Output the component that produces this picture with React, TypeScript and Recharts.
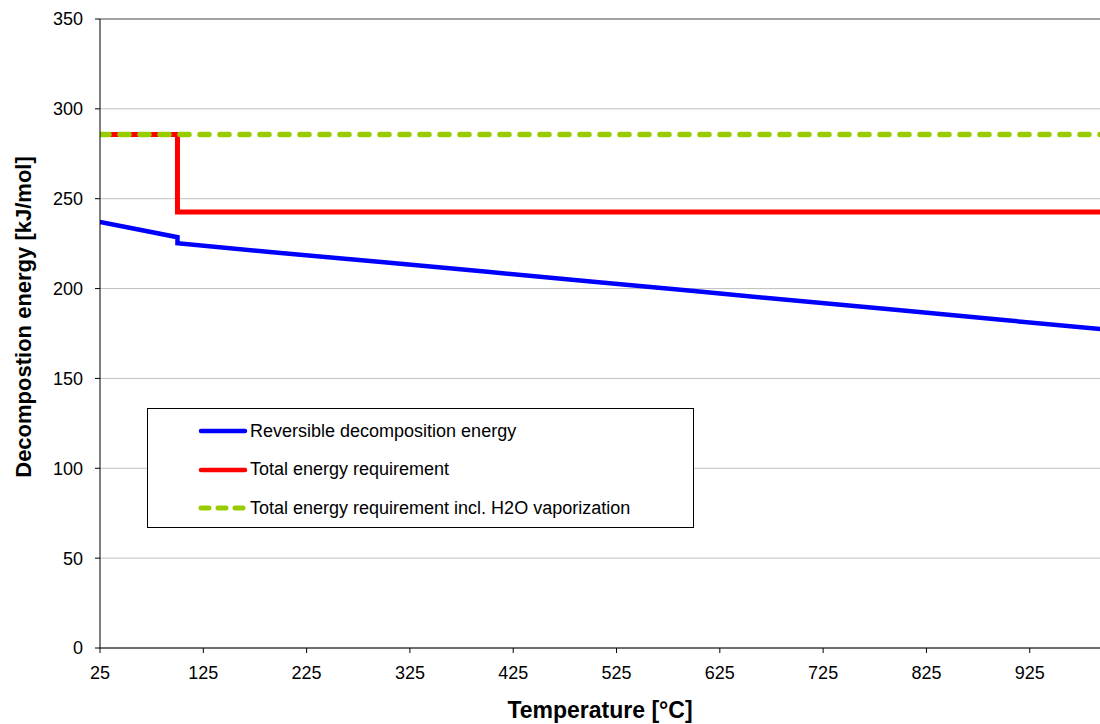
import React from "react";
import {
  CartesianGrid,
  Label,
  Line,
  LineChart,
  ReferenceLine,
  XAxis,
  YAxis,
} from "recharts";

// temperature [°C] / energy [kJ/mol]
const reversibleEnergy = [
  { t: 25, e: 237.1 },
  { t: 100, e: 228.6 },
  { t: 100, e: 225.2 },
  { t: 200, e: 219.8 },
  { t: 300, e: 214.6 },
  { t: 400, e: 209.3 },
  { t: 500, e: 203.9 },
  { t: 600, e: 198.6 },
  { t: 700, e: 193.2 },
  { t: 800, e: 187.9 },
  { t: 900, e: 182.5 },
  { t: 1000, e: 177.1 },
];

const totalEnergy = [
  { t: 25, e: 285.8 },
  { t: 100, e: 285.8 },
  { t: 100, e: 242.6 },
  { t: 1000, e: 242.6 },
];

const totalEnergyVapor = [
  { t: 25, e: 285.8 },
  { t: 1000, e: 285.8 },
];

const xTicks = [25, 125, 225, 325, 425, 525, 625, 725, 825, 925];
const yTicks = [0, 50, 100, 150, 200, 250, 300, 350];

const legendItems = [
  { label: "Reversible decomposition energy", color: "#0000ff", dashed: false },
  { label: "Total energy requirement", color: "#ff0000", dashed: false },
  {
    label: "Total energy requirement incl. H2O vaporization",
    color: "#99cc00",
    dashed: true,
  },
];

const font = "'Liberation Sans', Arial, sans-serif";

function LegendBox() {
  return (
    <div
      style={{
        position: "absolute",
        left: 147,
        top: 408,
        width: 547,
        height: 120,
        border: "1px solid #000",
        background: "#fff",
        fontFamily: font,
        fontSize: 18,
        color: "#000",
        boxSizing: "border-box",
        paddingTop: 3,
      }}
    >
      {legendItems.map((it) => (
        <div
          key={it.label}
          style={{ display: "flex", alignItems: "center", height: 38.5 }}
        >
          <svg width={50} height={10} style={{ marginLeft: 50, marginRight: 2 }}>
            <line
              x1={3}
              y1={5}
              x2={47}
              y2={5}
              stroke={it.color}
              strokeWidth={it.dashed ? 5 : 4.5}
              strokeLinecap="round"
              strokeDasharray={it.dashed ? "8 9" : undefined}
            />
          </svg>
          <span>{it.label}</span>
        </div>
      ))}
    </div>
  );
}

export default function App() {
  return (
    <div style={{ position: "absolute", left: 0, top: 0, width: 1100, height: 724 }}>
      <LineChart
        width={1100}
        height={724}
        margin={{ top: 19, right: 0, bottom: 0, left: 0 }}
      >
        <CartesianGrid horizontal vertical={false} stroke="#c0c0c0" />
        <ReferenceLine y={350} stroke="#8c8c8c" strokeWidth={1.5} />
        <XAxis
          type="number"
          dataKey="t"
          domain={[25, 993]}
          allowDataOverflow
          ticks={xTicks}
          height={76}
          tickSize={5}
          tickMargin={13}
          stroke="#000"
          tick={{ fill: "#000", fontSize: 18, fontFamily: font }}
        >
          <Label
            value="Temperature [°C]"
            position="insideBottom"
            offset={6}
            style={{ fontFamily: font, fontSize: 23, fontWeight: "bold", fill: "#000" }}
          />
        </XAxis>
        <YAxis
          type="number"
          domain={[0, 350]}
          ticks={yTicks}
          width={100}
          tickSize={5}
          tickMargin={12}
          stroke="#000"
          tick={{ fill: "#000", fontSize: 18, fontFamily: font }}
        >
          <Label
            content={() => (
              <text
                transform="translate(31,317) rotate(-90)"
                textAnchor="middle"
                style={{ fontFamily: font, fontSize: 22, fontWeight: "bold", fill: "#000" }}
              >
                Decompostion energy [kJ/mol]
              </text>
            )}
          />
        </YAxis>
        <Line
          data={reversibleEnergy}
          dataKey="e"
          name="Reversible decomposition energy"
          type="linear"
          stroke="#0000ff"
          strokeWidth={4.5}
          dot={false}
          activeDot={false}
          isAnimationActive={false}
        />
        <Line
          data={totalEnergy}
          dataKey="e"
          name="Total energy requirement"
          type="linear"
          stroke="#ff0000"
          strokeWidth={5}
          dot={false}
          activeDot={false}
          isAnimationActive={false}
        />
        <Line
          data={totalEnergyVapor}
          dataKey="e"
          name="Total energy requirement incl. H2O vaporization"
          type="linear"
          stroke="#99cc00"
          strokeWidth={5.5}
          strokeDasharray="9 11"
          strokeLinecap="round"
          dot={false}
          activeDot={false}
          isAnimationActive={false}
        />
      </LineChart>
      <LegendBox />
    </div>
  );
}
